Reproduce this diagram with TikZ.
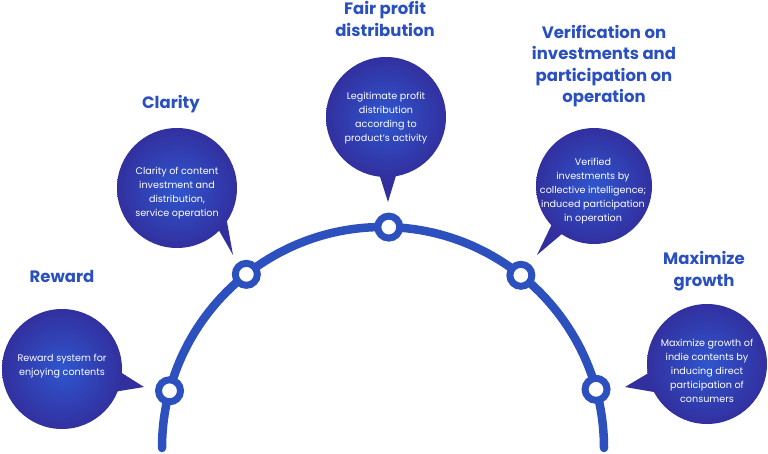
\documentclass[tikz,border=0pt]{standalone}
\usepackage{fontspec}
\setmainfont{Poppins}
\usetikzlibrary{calc}
\definecolor{arcblue}{HTML}{2C50BE}
\definecolor{headblue}{HTML}{2A50C0}
\definecolor{bubin}{HTML}{2F56CE}
\definecolor{bubout}{HTML}{32309F}
\begin{document}
\begin{tikzpicture}[x=1pt,y=-1pt,
  ring/.style={circle, draw=arcblue, line width=7pt, fill=white, minimum size=22pt, inner sep=0pt},
  bubble/.style={circle, inner color=bubin, outer color=bubout, minimum size=#1, inner sep=0pt},
  tail/.style={fill=bubout},
  heading/.style={text=headblue, font=\fontsize{16.5}{21.5}\selectfont\bfseries, align=center},
  body/.style={text=white, font=\fontsize{9.6}{14}\selectfont, align=center}]
\useasboundingbox (0,0) rectangle (768,453);

% main arc
\coordinate (c) at (383,448);
\draw[arcblue, line width=8.5pt, line cap=round] ($(c)+(180:221)$) arc[start angle=180, end angle=360, radius=221];

% rings on the arc
\node[ring] (r1) at ($(c)+(195:221)$) {};
\node[ring] (r2) at ($(c)+(231.8:221)$) {};
\node[ring] (r3) at ($(c)+(271.5:221)$) {};
\node[ring] (r4) at ($(c)+(308.6:221)$) {};
\node[ring] (r5) at ($(c)+(344.6:221)$) {};

% bubble centres and tail tips
\coordinate (b1) at (62,369);  \coordinate (t1) at (144,387);
\coordinate (b2) at (177,188); \coordinate (t2) at (233,255);
\coordinate (b3) at (386,117); \coordinate (t3) at (388,202);
\coordinate (b4) at (594,186); \coordinate (t4) at (537,255);
\coordinate (b5) at (707,364); \coordinate (t5) at (625,387);

% tails
\fill[tail] ($(b1)+(1:55)$) -- (t1) -- ($(b1)+(25:55)$) -- cycle;
\fill[tail] ($(b2)+(28:55)$) -- (t2) -- ($(b2)+(44:55)$) -- cycle;
\fill[tail] ($(b3)+(78:55)$) -- (t3) -- ($(b3)+(98:55)$) -- cycle;
\fill[tail] ($(b4)+(122:52)$) -- (t4) -- ($(b4)+(140:52)$) -- cycle;
\fill[tail] ($(b5)+(148:55)$) -- (t5) -- ($(b5)+(173:55)$) -- cycle;

% bubbles
\node[bubble=120pt] (n1) at (b1) {};
\node[bubble=120pt] (n2) at (b2) {};
\node[bubble=120pt] (n3) at (b3) {};
\node[bubble=116pt] (n4) at (b4) {};
\node[bubble=120pt] (n5) at (b5) {};

% bubble texts
\node[body] (x1) at (62,366) {Reward system for\\enjoying contents};
\node[body] (x2) at (177,193) {Clarity of content\\investment and\\distribution,\\service operation};
\node[body] (x3) at (386,118) {Legitimate profit\\distribution\\according to\\product's activity};
\node[body] (x4) at (593,191) {Verified\\investments by\\collective intelligence;\\induced participation\\in operation};
\node[body] (x5) at (707,371) {Maximize growth of\\indie contents by\\inducing direct\\participation of\\consumers};

% headings
\node[heading] (h1) at (62,276) {Reward};
\node[heading] (h2) at (171,104) {Clarity};
\node[heading] (h3) at (385,19) {Fair profit\\distribution};
\node[heading] (h4) at (604,66) {Verification on\\investments and\\participation on\\operation};
\node[heading] (h5) at (704,271) {Maximize\\growth};
\end{tikzpicture}
\end{document}
